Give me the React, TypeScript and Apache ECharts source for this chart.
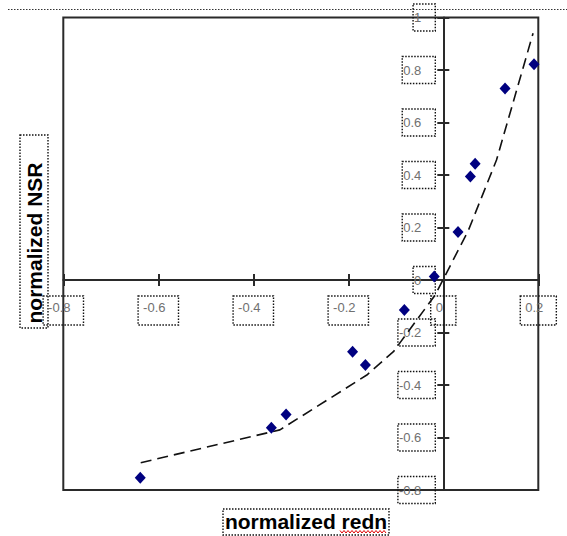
import React, { useEffect, useRef } from "react";
import * as echarts from "echarts";

// normalized redn (x) and normalized NSR (y) of the observed points
const rednValues = [-0.638, -0.362, -0.331, -0.191, -0.164, -0.082, -0.019, 0.031, 0.057, 0.067, 0.130, 0.191];
const nsrValues = [-0.753, -0.563, -0.512, -0.273, -0.324, -0.114, 0.013, 0.183, 0.394, 0.443, 0.730, 0.822];

// dashed fitted curve
const fitX = [-0.637, -0.344, -0.161, -0.105, -0.017, 0.053, 0.112, 0.189];
const fitY = [-0.696, -0.571, -0.362, -0.273, -0.057, 0.19, 0.457, 0.94];

const xMin = -0.8, xMax = 0.2, yMin = -0.8, yMax = 1, step = 0.2;
const xTitle = "normalized redn";
const yTitle = "normalized NSR";

const FONT = '"Liberation Sans", Arial, Helvetica, sans-serif';
const AXIS_COLOR = "#2a2a2a";
const DOT = [1.5, 1.5];

const fmt = (v: number) => String(Number(v.toFixed(2)));

// plot box in pixels
const L = 63.3, T = 17.5, W = 475, H = 472.5;

export default function App() {
  const ref = useRef<HTMLDivElement>(null);
  useEffect(() => {
    if (!ref.current) return;
    const chart = echarts.init(ref.current, undefined, { renderer: "svg" });

    // pixel position of the zero lines, from the scale of the plot box
    const zeroX = L + ((0 - xMin) / (xMax - xMin)) * W;
    const zeroY = T + ((yMax - 0) / (yMax - yMin)) * H;

    const labelBox = {
      color: "#707070",
      fontFamily: FONT,
      fontSize: 13,
      lineHeight: 14,
      borderColor: "#111",
      borderWidth: 1.4,
      borderType: DOT,
      formatter: fmt,
    };
    const axisLineStyle = { color: AXIS_COLOR, width: 2 };

    const xBase = { type: "value", min: xMin, max: xMax, interval: step, splitLine: { show: false } };
    const yBase = { type: "value", min: yMin, max: yMax, interval: step, splitLine: { show: false } };
    const hiddenX = (g: number) => ({ ...xBase, gridIndex: g, show: false });
    const hiddenY = (g: number) => ({ ...yBase, gridIndex: g, show: false });

    const squiggle: number[][] = [];
    for (let i = 0, x = 340; x <= 387; x += 2, i++) {
      squiggle.push([x, i % 2 === 0 ? 530.5 : 533]);
    }

    chart.setOption({
      animation: false,
      grid: [
        { left: L, top: T, width: W, height: H, show: true, borderColor: AXIS_COLOR, borderWidth: 2, backgroundColor: "transparent" },
        { left: L, top: T, width: W, height: zeroY - T },
        { left: L, top: zeroY, width: W, height: T + H - zeroY },
        { left: zeroX, top: T, width: L + W - zeroX, height: H },
        { left: L, top: T, width: zeroX - L, height: H },
      ],
      xAxis: [
        hiddenX(0),
        {
          ...xBase,
          gridIndex: 1,
          position: "bottom",
          axisLine: { show: true, onZero: false, lineStyle: axisLineStyle },
          axisTick: { show: true, inside: false, length: 6, lineStyle: axisLineStyle },
          axisLabel: { ...labelBox, margin: 16, padding: [4, 13, 11, 5] },
        },
        {
          ...xBase,
          gridIndex: 2,
          position: "top",
          axisLine: { show: false, onZero: false },
          axisTick: { show: true, inside: false, length: 6, lineStyle: axisLineStyle },
          axisLabel: { show: false },
        },
        hiddenX(3),
        hiddenX(4),
      ],
      yAxis: [
        hiddenY(0),
        hiddenY(1),
        hiddenY(2),
        {
          ...yBase,
          gridIndex: 3,
          position: "left",
          axisLine: { show: true, onZero: false, lineStyle: axisLineStyle },
          axisTick: { show: true, inside: false, length: 6, lineStyle: axisLineStyle },
          axisLabel: { ...labelBox, margin: 8, padding: [6, 14, 7, 1] },
        },
        {
          ...yBase,
          gridIndex: 4,
          position: "right",
          axisLine: { show: false, onZero: false },
          axisTick: { show: true, inside: false, length: 6, lineStyle: axisLineStyle },
          axisLabel: { show: false },
        },
      ],
      series: [
        {
          type: "line",
          xAxisIndex: 0,
          yAxisIndex: 0,
          data: fitX.map((x, i) => [x, fitY[i]]),
          symbol: "none",
          showSymbol: false,
          lineStyle: { color: "#111", width: 1.6, type: [11, 6] },
          z: 2,
        },
        {
          type: "scatter",
          xAxisIndex: 0,
          yAxisIndex: 0,
          data: rednValues.map((x, i) => [x, nsrValues[i]]),
          symbol: "diamond",
          symbolSize: [11, 12],
          itemStyle: { color: "#000080", opacity: 1 },
          z: 3,
        },
      ],
      graphic: [
        {
          type: "line",
          shape: { x1: 8, y1: 9.5, x2: 567, y2: 9.5 },
          style: { stroke: "#333", lineWidth: 1, lineDash: DOT },
        },
        {
          type: "rect",
          shape: { x: 20, y: 135, width: 28, height: 193 },
          style: { fill: "none", stroke: "#111", lineWidth: 1.4, lineDash: DOT },
        },
        {
          type: "text",
          x: 34,
          y: 243,
          rotation: Math.PI / 2,
          style: {
            text: yTitle,
            font: `bold 21px ${FONT}`,
            fill: "#000",
            textAlign: "center",
            textVerticalAlign: "middle",
            align: "center",
            verticalAlign: "middle",
          },
        },
        {
          type: "rect",
          shape: { x: 223, y: 509, width: 166, height: 26 },
          style: { fill: "none", stroke: "#111", lineWidth: 1.4, lineDash: DOT },
        },
        {
          type: "text",
          x: 306,
          y: 521.5,
          style: {
            text: xTitle,
            font: `bold 21px ${FONT}`,
            fill: "#000",
            textAlign: "center",
            textVerticalAlign: "middle",
            align: "center",
            verticalAlign: "middle",
          },
        },
        {
          type: "polyline",
          shape: { points: squiggle },
          style: { stroke: "#e00000", lineWidth: 1, fill: "none" },
        },
      ],
    });
    return () => chart.dispose();
  }, []);

  return (
    <div
      ref={ref}
      style={{ position: "absolute", left: 0, top: 0, width: 567, height: 536 }}
    />
  );
}
